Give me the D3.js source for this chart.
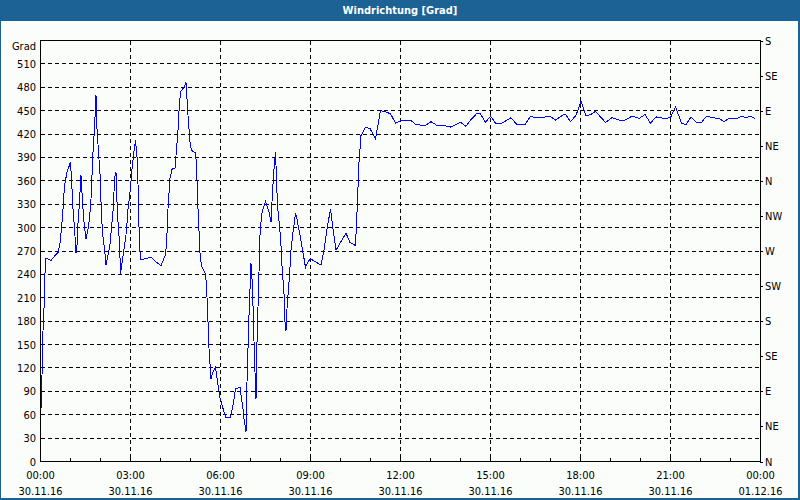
<!DOCTYPE html>
<html>
<head>
<meta charset="utf-8">
<script src="https://cdn.jsdelivr.net/npm/d3@7"></script>
<style>
  html, body { margin: 0; padding: 0; background: #fff; }
  svg { display: block; }
  text { font-family: Tahoma, "DejaVu Sans Condensed", "DejaVu Sans", sans-serif; font-size: 11px; fill: #000; }
</style>
</head>
<body>
<svg id="chart" width="800" height="500"></svg>
<script>
// ---- data ----
const chartTitle = "Windrichtung [Grad]";
const yUnit = "Grad";
// minutes since 30.11.16 00:00
const minutes = [1,3,4,7,9,11,21,29,35,39,43,45,48,53,60,63,65,68,71,73,74,77,81,83,85,88,91,94,97,99,101,103,105,108,111,113,116,119,121,123,125,128,131,134,139,143,146,148,151,153,155,158,160,163,165,169,172,175,179,183,186,190,194,196,198,201,209,221,231,241,249,252,255,259,263,269,275,
 278,281,287,291,295,299,302,310,312,315,319,322,330,332,334,337,341,345,350,354,359,365,370,380,385,390,399,405,407,411,412,413,415,417,421,423,425,428,431,433,437,439,442,446,450,457,461,463,466,470,471,474,478,481,483,487,489,491,493,498,501,505,510,513,519,525,530,535,540,
 561,567,573,580,585,591,600,611,619,630,633,637,641,650,659,670,680,692,700,
 710,723,740,751,770,781,793,807,820,840,851,860,872,880,890,900,910,923,941,953,969,980,990,1003,1018,1030,1049,1060,1071,1081,1091,1100,1110,1130,1143,1157,1167,1183,1197,1209,1220,1231,1247,1260,1270,1282,1291,1301,1312,1322,1332,1343,1357,1367,1377,1393,1403,1411,1420,1429];
const degrees = [68,110,153,196,241,261,258,264,268,280,307,324,354,371,384,350,324,300,267,277,296,324,367,345,324,300,286,294,307,320,337,367,397,427,470,427,397,369,333,305,288,273,252,261,279,307,328,363,371,333,307,281,241,254,264,281,296,324,345,375,393,412,384,328,273,259,260,262,256,251,264,277,324,363,375,376,425,
 461,475,480,486,444,410,399,396,380,324,268,251,241,226,196,145,106,115,121,102,82,68,57,57,72,93,95,68,55,38,59,102,145,187,254,234,200,132,80,153,243,290,316,326,333,320,307,333,367,397,380,328,303,277,251,215,179,168,196,239,271,294,318,311,290,268,249,256,260,
 252,271,298,324,298,271,281,293,281,277,320,384,418,429,427,414,450,448,446,
 434,438,438,432,431,436,431,431,429,435,430,438,446,446,435,443,434,434,441,432,432,443,441,441,443,438,446,436,444,462,443,445,449,435,441,438,437,443,440,445,434,442,440,441,455,434,432,442,435,435,443,441,440,436,440,440,443,441,443,440];
const leftTicks = [0,30,60,90,120,150,180,210,240,270,300,330,360,390,420,450,480,510];
const rightTicks = [0,45,90,135,180,225,270,315,360,405,450,495,540];
const compassLabels = ["N","NE","E","SE","S","SW","W","NW","N","NE","E","SE","S"];
const timeTicks = [0,180,360,540,720,900,1080,1260,1440];
const timeLabels = ["00:00","03:00","06:00","09:00","12:00","15:00","18:00","21:00","00:00"];
const dateLabels = ["30.11.16","30.11.16","30.11.16","30.11.16","30.11.16","30.11.16","30.11.16","30.11.16","01.12.16"];
const hourTicks = d3.range(0, 1441, 60);

// ---- drawing ----
const svg = d3.select("#chart");
const W = 800, H = 500;
const frame = "#1d6295";

svg.append("rect").attr("x",0).attr("y",0).attr("width",W).attr("height",H).attr("fill",frame);
svg.append("rect").attr("x",1).attr("y",21).attr("width",W-3).attr("height",H-23).attr("fill","#fbfdfb");
svg.append("text").attr("x",400).attr("y",14).attr("text-anchor","middle")
  .style("fill","#fff").style("font-weight","bold").style("font-size","11px").text(chartTitle);

const x = d3.scaleLinear().domain([0,1440]).range([40.5,760.5]);
const y = d3.scaleLinear().domain([0,540]).range([461.5,40.5]);

// grid
const grid = svg.append("g").attr("shape-rendering","crispEdges");
grid.selectAll("line.h").data(leftTicks.filter(d=>d>0)).join("line")
  .attr("x1",x(0)).attr("x2",x(1440)).attr("y1",d=>Math.round(y(d)-0.5)+0.5).attr("y2",d=>Math.round(y(d)-0.5)+0.5)
  .attr("stroke","#000").attr("stroke-dasharray","4,3");
grid.selectAll("line.v").data(timeTicks.slice(1,-1)).join("line")
  .attr("x1",d=>x(d)).attr("x2",d=>x(d)).attr("y1",y(540)).attr("y2",y(0))
  .attr("stroke","#000").attr("stroke-dasharray","4,3");

// frame of plot
svg.append("rect").attr("x",x(0)).attr("y",y(540)).attr("width",x(1440)-x(0)).attr("height",y(0)-y(540))
  .attr("fill","none").attr("stroke","#000").attr("shape-rendering","crispEdges");

// hourly minor ticks (inside, upward)
svg.append("g").attr("shape-rendering","crispEdges").selectAll("line").data(hourTicks).join("line")
  .attr("x1",d=>x(d)).attr("x2",d=>x(d)).attr("y1",y(0)).attr("y2",y(0)-4).attr("stroke","#000");

// left axis
const leftAxis = d3.axisLeft(y).tickValues(leftTicks).tickSize(0).tickPadding(4);
const gl = svg.append("g").attr("transform","translate(40,0)").call(leftAxis);
gl.select(".domain").remove();
gl.attr("font-family",null).attr("font-size",null);
svg.append("text").attr("x",36).attr("y",50).attr("text-anchor","end").text(yUnit);

// right axis
const rightAxis = d3.axisRight(y).tickValues(rightTicks).tickFormat((d,i)=>compassLabels[i]).tickSize(3).tickPadding(2);
const gr = svg.append("g").attr("transform","translate(760,0)").call(rightAxis);
gr.select(".domain").remove();
gr.attr("font-family",null).attr("font-size",null);
gr.selectAll("line").attr("shape-rendering","crispEdges");

// bottom labels
const gb = svg.append("g");
gb.selectAll("text.t").data(timeTicks).join("text")
  .attr("x",d=>x(d)).attr("y",479).attr("text-anchor","middle").text((d,i)=>timeLabels[i]);
gb.selectAll("text.d").data(timeTicks).join("text")
  .attr("x",d=>x(d)).attr("y",495).attr("text-anchor","middle").text((d,i)=>dateLabels[i]);

// line
const pts = minutes.map((m,i)=>[m,degrees[i]]);
const line = d3.line().x(d=>x(d[0])).y(d=>y(d[1]));
svg.append("path").datum(pts).attr("d",line).attr("fill","none").attr("stroke","#0000ff")
  .attr("stroke-width",1).attr("shape-rendering","crispEdges");
</script>
</body>
</html>
